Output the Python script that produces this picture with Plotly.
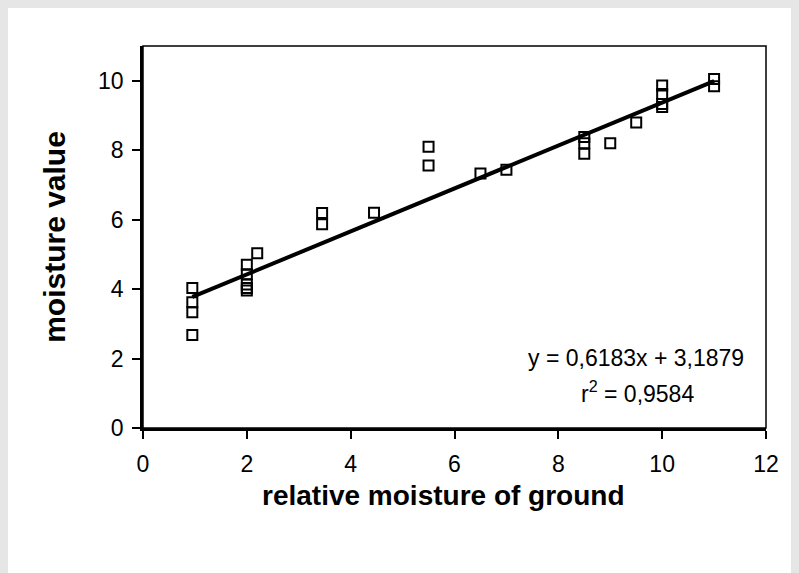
import plotly.graph_objects as go

# data
x_vals = [0.95, 0.95, 0.95, 0.95,
          2.0, 2.0, 2.0, 2.0, 2.0, 2.2,
          3.45, 3.45, 4.45,
          5.5, 5.5, 6.5, 7.0,
          8.5, 8.5, 8.5, 9.0, 9.5,
          10.0, 10.0, 10.0, 10.0,
          11.0, 11.0]
y_vals = [4.03, 3.62, 3.33, 2.68,
          4.70, 4.43, 4.13, 4.03, 3.96, 5.03,
          6.19, 5.87, 6.20,
          8.10, 7.56, 7.33, 7.44,
          8.38, 8.20, 7.90, 8.20, 8.80,
          9.86, 9.62, 9.33, 9.24,
          10.05, 9.84]
slope = 0.6183
intercept = 3.1879
fit_x = [0.95, 11.0]
fit_y = [slope * v + intercept for v in fit_x]

eq_text = "y = 0,6183x + 3,1879"
r2_text = "r<sup>2</sup> = 0,9584"
x_title = "<b>relative moisture of ground</b>"
y_title = "<b>moisture value</b>"

x_ticks = [0, 2, 4, 6, 8, 10, 12]
y_ticks = [0, 2, 4, 6, 8, 10]

font = "Liberation Sans, Arial, sans-serif"

W, H = 791, 565
L, R, T, B = 135, 33, 38, 145
PW, PH = W - L - R, H - T - B

fig = go.Figure()
fig.add_trace(go.Scatter(
    x=x_vals, y=y_vals, mode="markers",
    marker=dict(symbol="square-open", size=10, color="black", line=dict(width=2, color="black")),
    showlegend=False, cliponaxis=False))
fig.add_trace(go.Scatter(
    x=fit_x, y=fit_y, mode="lines",
    line=dict(color="black", width=4), showlegend=False))

fig.update_layout(
    width=W, height=H,
    margin=dict(l=L, r=R, t=T, b=B),
    paper_bgcolor="white", plot_bgcolor="white",
    font=dict(family=font, color="black"),
    xaxis=dict(range=[0, 12], tickvals=x_ticks, ticks="outside", ticklen=8, tickwidth=2,
               tickcolor="black", showgrid=False, zeroline=False,
               showline=True, linecolor="black", linewidth=2.5, mirror=False,
               tickfont=dict(size=23, family=font), ticklabelstandoff=6),
    yaxis=dict(range=[0, 11], tickvals=y_ticks, ticks="outside", ticklen=8, tickwidth=2,
               tickcolor="black", showgrid=False, zeroline=False,
               showline=True, linecolor="black", linewidth=2.5, mirror=False,
               tickfont=dict(size=23, family=font), ticklabelstandoff=4,
               title=dict(text=y_title, font=dict(size=30, family=font), standoff=24)),
    shapes=[
        dict(type="rect", xref="paper", yref="paper", x0=0, x1=1, y0=0, y1=1,
             line=dict(color="black", width=1.5), fillcolor="rgba(0,0,0,0)", layer="below"),
    ],
    annotations=[
        dict(text=x_title, xref="paper", yref="paper", x=(443 - 143) / PW, y=(428 - 495) / PH,
             showarrow=False, xanchor="center", yanchor="middle", font=dict(size=28, family=font)),
        dict(text=eq_text, xref="paper", yref="paper", x=(636 - 143) / PW, y=(428 - 358) / PH,
             showarrow=False, xanchor="center", yanchor="middle", font=dict(size=23, family=font)),
        dict(text=r2_text, xref="paper", yref="paper", x=(637 - 143) / PW, y=(428 - 392) / PH,
             showarrow=False, xanchor="center", yanchor="middle", font=dict(size=23, family=font)),
    ],
)

fig.write_html("out.html", post_script="document.body.style.background='#e6e6e6';")
